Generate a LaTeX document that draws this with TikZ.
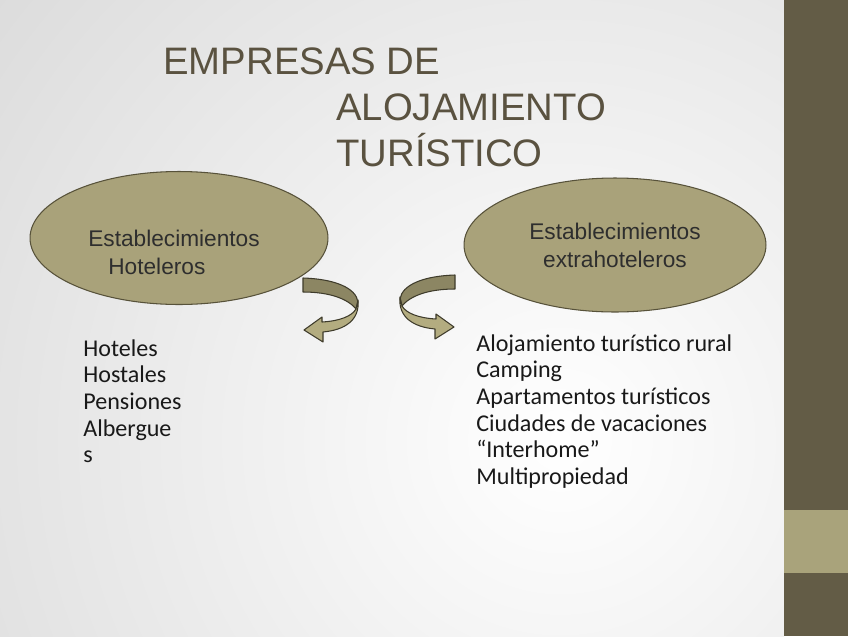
\documentclass[tikz,border=0pt]{standalone}
\usepackage{fontspec}
\setmainfont{Liberation Sans}
\newfontfamily\listfont{Carlito}
\usepackage{tikz}
\usetikzlibrary{shapes.geometric, positioning}
\usepackage{xcolor}
\definecolor{slidegrey}{HTML}{D8D8D8}
\definecolor{bandbrown}{HTML}{635C46}
\definecolor{bandkhaki}{HTML}{A9A37B}
\definecolor{ovalfill}{HTML}{A9A27A}
\definecolor{ovalline}{HTML}{57523A}
\definecolor{titlebrown}{HTML}{5A5240}
\definecolor{arrowback}{HTML}{8C8663}
\definecolor{arrowfront}{HTML}{B3AC80}
\definecolor{arrowedge}{HTML}{3E3B2B}

\tikzset{
  oval/.style={ellipse, draw=ovalline, fill=ovalfill, line width=0.6pt, inner sep=0pt},
  ovaltext/.style={font=\fontsize{12.9}{15.9}\selectfont, text=black!82},
  titleline/.style={font=\fontsize{21.8}{26}\selectfont, text=titlebrown,
                    inner sep=0pt, anchor=base west},
  listtext/.style={font=\listfont\fontsize{13.7}{15.2}\selectfont, text=black!90,
                   align=left, inner sep=0pt, anchor=north west},
  ribbonback/.style={fill=arrowback, draw=arrowedge, line width=0.6pt, line join=round},
  ribbonfront/.style={fill=arrowfront, draw=arrowedge, line width=0.6pt, line join=round}
}

\begin{document}
\begin{tikzpicture}[x=0.02cm, y=-0.02cm]
  \useasboundingbox (0,0) rectangle (848,636);

  % slide background
  \fill[slidegrey] (0,0) rectangle (848,636);
  \begin{scope}
    \clip (0,0) rectangle (784,636);
    \shade[inner color=white, outer color=slidegrey] (560,440) circle (800);
  \end{scope}
  \fill[bandbrown] (784,0) rectangle (848,636);
  \fill[bandkhaki] (784,510) rectangle (848,573);

  % title
  \node[titleline] (title1) at (163,74) {EMPRESAS DE};
  \node[titleline] (title2) at (336,120) {ALOJAMIENTO};
  \node[titleline] (title3) at (336,166) {TURÍSTICO};

  % the two groups
  \node[oval, minimum width=5.96cm, minimum height=2.66cm] (hotel) at (179,238) {};
  \node[ovaltext, inner sep=0pt, anchor=base west] (hotelA) at (88,246) {Establecimientos};
  \node[ovaltext, inner sep=0pt, anchor=base west] (hotelB) at (108,274) {Hoteleros};

  \node[oval, ovaltext, align=center, minimum width=6.04cm, minimum height=2.68cm]
    (extra) at (615,245) {Establecimientos\\extrahoteleros};

  % curved ribbon arrows
  \filldraw[ribbonback] (303,278) .. controls (335,279) and (356,288) .. (358,302)
    -- (356,309) .. controls (348,299) and (330,292) .. (303,292) -- cycle;
  \filldraw[ribbonfront] (358,300) .. controls (360,320) and (345,330) .. (323,332)
    -- (323,342) -- (304,330) -- (322,317) -- (322,322)
    .. controls (340,321) and (352,316) .. (356,309) -- cycle;
  \begin{scope}[shift={(758,-3)}, xscale=-1]
    \filldraw[ribbonback] (303,278) .. controls (335,279) and (356,288) .. (358,302)
      -- (356,309) .. controls (348,299) and (330,292) .. (303,292) -- cycle;
    \filldraw[ribbonfront] (358,300) .. controls (360,320) and (345,330) .. (323,332)
      -- (323,342) -- (304,330) -- (322,317) -- (322,322)
      .. controls (340,321) and (352,316) .. (356,309) -- cycle;
  \end{scope}

  % lists
  \node[listtext] (hotlist) at (83,339) {Hoteles\\Hostales\\Pensiones\\Albergue\\s};
  \node[listtext] (extralist) at (476,334) {Alojamiento turístico rural\\Camping\\Apartamentos turísticos\\Ciudades de vacaciones\\“Interhome”\\Multipropiedad};
\end{tikzpicture}
\end{document}
